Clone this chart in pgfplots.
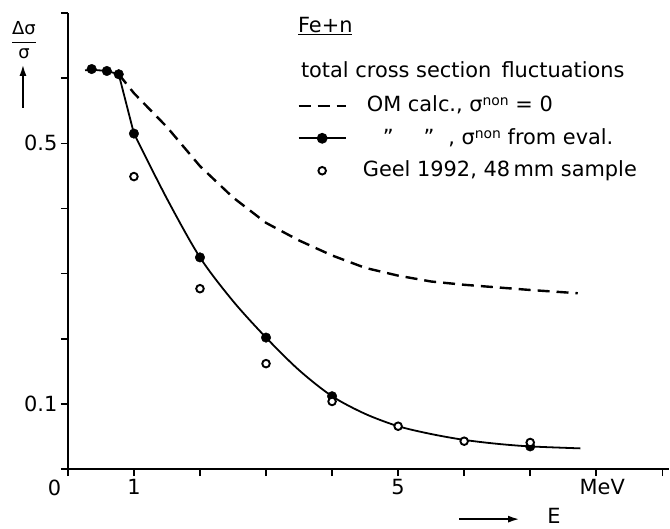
\documentclass[border=0pt]{standalone}
\usepackage{pgfplots}
\pgfplotsset{compat=1.18}
\usepackage{fontspec}
\setmainfont{DejaVu Sans}
\usetikzlibrary{arrows.meta}
\newcommand{\non}{\raisebox{6bp}{\fontsize{14}{14}\selectfont non}}
\pgfplotsset{
  lineleg/.style={legend image code/.code={\draw[##1] (0bp,6bp) -- (47bp,6bp);}},
  dotleg/.style={legend image code/.code={\draw[##1,mark=none] (0bp,6bp) -- (47bp,6bp); \fill (23.5bp,6bp) circle (4.5bp);}},
  circleg/.style={legend image code/.code={\draw[##1] plot coordinates {(23.5bp,6bp)};}},
}
\begin{document}
\begin{tikzpicture}[font=\fontsize{21}{25}\selectfont]
\path (-68bp,-59bp) rectangle (602bp,470bp);
\begin{axis}[
  at={(0,0)}, anchor=south west,
  scale only axis, width=602bp, height=457bp,
  xmin=0, xmax=9.1, ymin=0, ymax=0.7,
  axis x line=bottom, axis y line=left,
  axis line style={-, line width=2.2bp},
  tick align=outside, major tick length=7bp,
  every tick/.style={black, line width=1.6bp},
  xtick={0,1,2,3,4,5,6,7,8,9},
  xticklabels={{\llap{0}\phantom{0}},1,,,,5,,,{\hspace{12bp}MeV},},
  ytick={0,0.1,0.2,0.3,0.4,0.5,0.6,0.7},
  yticklabels={,0.1,,,,0.5,,},
  /pgf/number format/assume math mode=true,
  clip=false,
  legend style={at={(axis cs:3.477,0.5713)}, anchor=north west, draw=none, fill=none,
    inner sep=0pt, outer sep=0pt, row sep=12.5bp,
    nodes={inner sep=0pt, text height=15bp, text depth=5bp, anchor=base west}},
  legend cell align=left,
]
\addplot[black, line width=2.4bp, dash pattern=on 12bp off 7bp, forget plot] coordinates {
(0.77,0.606) (1.0,0.577) (1.5,0.525) (2.0,0.465) (2.5,0.417) (3.0,0.378) (3.5,0.351)
(4.0,0.328) (4.5,0.309) (5.0,0.297) (5.5,0.288) (6.0,0.283) (6.5,0.279) (7.0,0.275) (7.72,0.270)};
\addplot[black, line width=1.8bp, forget plot] coordinates {
(0.26,0.612) (0.36,0.613) (0.59,0.611) (0.77,0.606) (1.0,0.515)};
\addplot[black, line width=1.8bp, smooth, forget plot] coordinates {
(1.0,0.515) (1.5,0.415) (2.0,0.325) (2.5,0.258) (3.0,0.202) (3.5,0.152) (4.0,0.112)
(4.5,0.085) (5.0,0.066) (5.5,0.054) (6.0,0.045) (6.5,0.039) (7.0,0.035) (7.76,0.032)};
\addplot[only marks, mark=*, mark size=4.8bp, black, forget plot] coordinates {
(0.36,0.614) (0.59,0.611) (0.77,0.606) (1.0,0.515) (2,0.325) (3,0.202) (4,0.112) (7,0.035)};
\addplot[only marks, mark=*, mark size=3.8bp, draw=black, fill=white, line width=1.9bp, forget plot] coordinates {
(1,0.449) (2,0.277) (3,0.162) (4,0.104) (5,0.066) (6,0.043) (7,0.041)};
\addlegendimage{lineleg, black, line width=2.4bp, dash pattern=on 12bp off 7bp}
\addlegendentry{\hspace{20bp}OM calc., σ\non\ = 0}
\addlegendimage{dotleg, black, line width=1.8bp}
\addlegendentry{\hspace{36bp}”\hspace{30bp}”\hspace{14bp}, σ\non\ from eval.}
\addlegendimage{circleg, only marks, mark=*, mark size=3.8bp, draw=black, fill=white, line width=1.9bp}
\addlegendentry{\hspace{16bp}Geel 1992, 48\,mm sample}
\end{axis}
\node[anchor=base west] at (227bp,437bp) {\underline{Fe+n}};
\node[anchor=base west] at (230bp,392bp) {total cross section\, fluctuations};
\node[font=\fontsize{18}{20}\selectfont] at (-44bp,430bp) {$\displaystyle\frac{\hbox{Δσ}}{\hbox{σ}}$};
\draw[-{Latex[length=11bp,width=7bp]}, line width=1.6bp] (-45bp,362bp) -- (-45bp,405bp);
\draw[-{Latex[length=11bp,width=7bp]}, line width=1.6bp] (392bp,-50bp) -- (452bp,-50bp);
\node[inner sep=1bp] at (487bp,-47bp) {E};
\end{tikzpicture}
\end{document}
